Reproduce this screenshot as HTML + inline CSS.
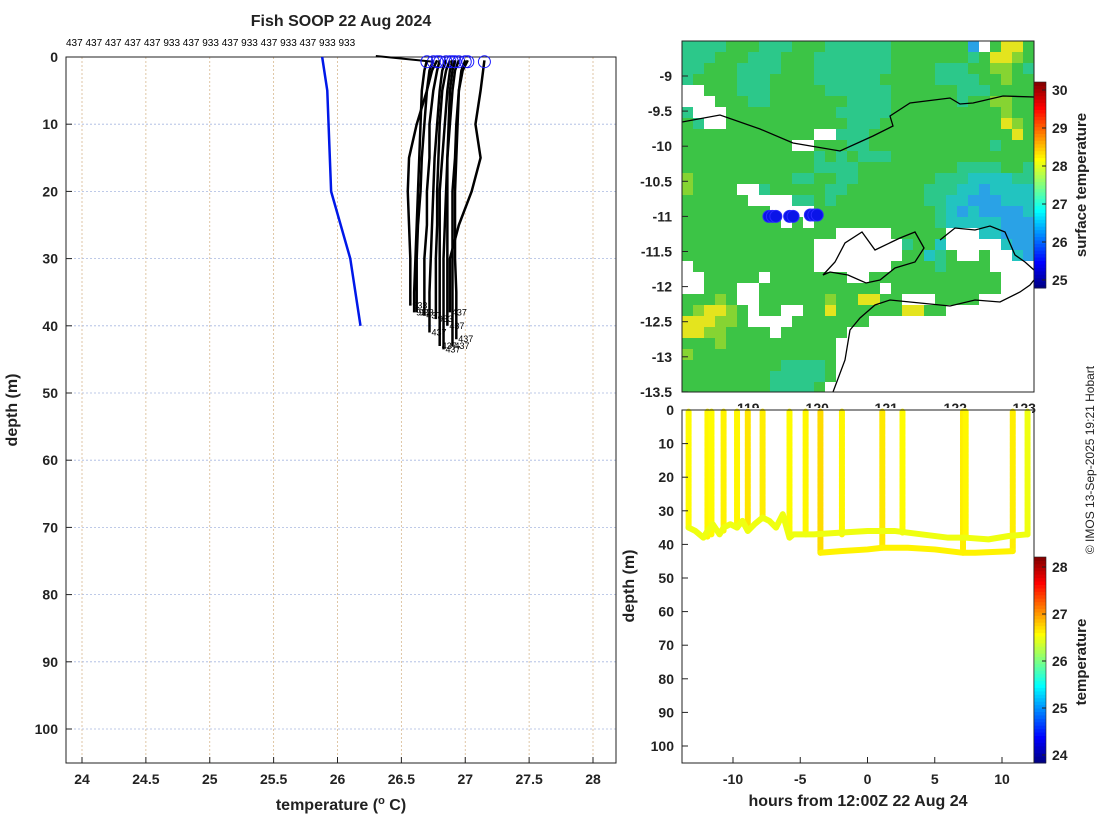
<!DOCTYPE html>
<html><head><meta charset="utf-8"><style>
html,body{margin:0;padding:0;background:#fff;}
svg{display:block;font-family:"Liberation Sans","DejaVu Sans",sans-serif;}
.tk{font-size:14px;font-weight:bold;fill:#222;}
.ttl{font-size:16px;font-weight:bold;fill:#222;}
</style></head><body>
<svg id="fig" width="1100" height="820" viewBox="0 0 1100 820" xmlns="http://www.w3.org/2000/svg">
<rect width="1100" height="820" fill="#fff"/>
<text x="341" y="26" text-anchor="middle" class="ttl">Fish SOOP 22 Aug 2024</text>
<text x="66" y="46" font-size="10" fill="#000">437 437 437 437 437 933 437 933 437 933 437 933 437 933 933</text>
<g id="left"></g>
<g id="map"></g>
<g id="sect"></g>
<text transform="translate(1094,460) rotate(-90)" text-anchor="middle" font-size="12" fill="#222">© IMOS 13-Sep-2025 19:21 Hobart</text>
</svg>
<script>
// ---------- Left profile chart data ----------
const xTicks = [24,24.5,25,25.5,26,26.5,27,27.5,28];
const yTicks = [0,10,20,30,40,50,60,70,80,90,100];
const climDepth = [0,5,20,30,40];
const climTemp = [25.88,25.92,25.95,26.1,26.18];
const profDepth = [0.5,2,5,10,15,20,25,30,35];
const profEnd = [38,38.5,41,43,43.5,43,38,37,39,42,38,40];
const profIds = ['933','437','437','437','437','437','437','933','933','437','933','437'];
const profTemps = [
 [26.75,26.72,26.7,26.68,26.66,26.65,26.63,26.62,26.62],
 [26.8,26.78,26.75,26.72,26.72,26.7,26.7,26.68,26.68],
 [26.85,26.82,26.8,26.78,26.76,26.75,26.74,26.73,26.72],
 [26.9,26.88,26.86,26.84,26.82,26.8,26.8,26.8,26.8],
 [26.95,26.92,26.9,26.88,26.86,26.85,26.84,26.83,26.83],
 [27.0,26.97,26.95,26.93,26.92,26.9,26.9,26.9,26.9],
 [27.15,27.14,27.12,27.08,27.12,27.05,26.95,26.88,26.88],
 [26.78,26.74,26.7,26.62,26.56,26.55,26.56,26.57,26.57],
 [26.88,26.85,26.82,26.8,26.79,26.78,26.78,26.77,26.77],
 [27.02,26.98,26.95,26.94,26.93,26.92,26.92,26.92,26.93],
 [26.7,26.68,26.66,26.65,26.64,26.63,26.62,26.61,26.6],
 [26.92,26.9,26.88,26.87,26.86,26.86,26.86,26.86,26.86]
];
// ---------- Map data ----------
const latTicks = [-9,-9.5,-10,-10.5,-11,-11.5,-12,-12.5,-13,-13.5];
const lonTicks = [119,120,121,122,123];
const shipLon = [119.3,119.35,119.4,119.6,119.65,119.9,119.95,120.0];
const shipLat = [-11.0,-11.0,-11.0,-11.0,-11.0,-10.98,-10.98,-10.98];
const sstCb = [25,26,27,28,29,30];
const sstGrid = [
"ttttgggtttgggttttttgggggggbwgyyg",
"tttgggtttgggtttttttgggggggtgyyhg",
"ttgggttttgggtttttttggggtttgghhgt",
"tggggtttggggttttttgggggttttgghgg",
"wwgggtttgggggttttttggggggtttgggg",
"wwwgggttgggggggttttggggggtgghhgg",
"twwwggggggggggtttttgggggggggghgg",
"gtwwgggggggggggtttgggggggggggyhg",
"ggggggggggggwwtttgggggggggggggyg",
"ggggggggggwwgggttgggggggggggtggg",
"ggggggggggggtgtgtttggggggggggggg",
"ggggggggggggttttgggggggggttttggt",
"hgggggggggttggttgggggggtttcccctt",
"hggggwwtgggggttgggggggtttccbcccc",
"ggggggwwwwttgtggggggggttccbbbccc",
"ggggggggwwwwgggggggggggtcbcbbbbc",
"gggggggggwgwgggggggggggtcccccbbb",
"ggggggggggggggwwwwwgggggwwwccbbb",
"ggggggggggggwwwwwwwwtggcwwwwwcbb",
"ggggggggggggwwwwwwwwggctgwwgwwcb",
"wgggggggggggwwwwwwwggggtggggwwww",
"wwgggggwgggggggwwggggggggggggwww",
"wwgggwwgggggggggggwggggggggggwww",
"ggghgwwgggggghggyyggwwwggggwwwww",
"ghyyhgwggwwggyggggggyyggwwwwwwww",
"yyyhhgwwwwgggggggwwwwwwwwwwwwwww",
"yyhhggggwggggggwwwwwwwwwwwwwwwww",
"ggghggggggggggwwwwwwwwwwwwwwwwww",
"hgggggggggggggwwwwwwwwwwwwwwwwww",
"gggggggggttttgwwwwwwwwwwwwwwwwww",
"ggggggggtttttgwwwwwwwwwwwwwwwwww",
"ggggggggttttgwwwwwwwwwwwwwwwwwww"
];
// ---------- Section data ----------
const hTicks = [-10,-5,0,5,10];
const dTicks = [0,10,20,30,40,50,60,70,80,90,100];
const castTime = [-13.3,-11.9,-11.6,-10.7,-9.7,-8.9,-7.8,-5.8,-4.6,-3.5,-1.9,1.1,2.6,7.1,7.3,10.8,11.9];
const castBottom = [35,38,37,36,35,36,32,38,37,42.5,37,41,36.5,42.5,38,42,37];
const castTempV = [26.58,26.6,26.58,26.62,26.6,26.68,26.64,26.58,26.6,26.72,26.6,26.66,26.58,26.64,26.6,26.64,26.5];
const trackATime = [-13.3,-12.8,-12.2,-11.9,-11.5,-11,-10.7,-10.2,-9.7,-9.3,-8.9,-8.4,-7.8,-7.3,-6.8,-6.3,-5.8,-5.5,-4,-2,0,1.1,2,4,6,7.3,9,10.5,11.9];
const trackADepth = [35,36,38,36,34,37,35,34,35,33,36,34,32,33,35,31,38,37,37,36.5,36,36,36,37,38,38,38.5,37.5,37];
const trackBTime = [-3.5,-2,0,1.1,3,5,7.1,8,10.8];
const trackBDepth = [42.5,42,41.5,41,41,41.5,42.5,42.5,42];
const tempCb = [24,25,26,27,28];

const NS='http://www.w3.org/2000/svg';
function mk(parent,tag,attrs){const e=document.createElementNS(NS,tag);for(const k in attrs)e.setAttribute(k,attrs[k]);parent.appendChild(e);return e;}

// ===== LEFT =====
const L=document.getElementById('left');
const xL=t=>82+(t-24)*127.75, yL=d=>57+d*6.72;
xTicks.forEach(t=>{
 const g=mk(L,'line',{x1:xL(t),x2:xL(t),y1:57,y2:763,stroke:'#d8b890','stroke-dasharray':'2,2','stroke-width':0.8});
 
 
 const tx=mk(L,'text',{x:xL(t),y:784,'text-anchor':'middle',class:'tk'});tx.textContent=t;
 
 
 mk(L,'line',{x1:xL(t),x2:xL(t),y1:763,y2:757,stroke:'#222'});
});
yTicks.forEach(d=>{
 const g=mk(L,'line',{x1:66,x2:616,y1:yL(d),y2:yL(d),stroke:'#a8b8e0','stroke-dasharray':'2,2','stroke-width':0.8});
 
 
 const tx=mk(L,'text',{x:58,y:yL(d)+5,'text-anchor':'end',class:'tk'});tx.textContent=d;
 
 
 mk(L,'line',{x1:66,x2:72,y1:yL(d),y2:yL(d),stroke:'#222'});
});
const fr=mk(L,'rect',{x:66,y:57,width:550,height:706,fill:'none',stroke:'#222','stroke-width':1});


let xt=mk(L,'text',{x:341,y:810,'text-anchor':'middle',class:'ttl'});xt.innerHTML='temperature (<tspan font-size="11" dy="-6">o</tspan><tspan dy="6"> C)</tspan>';


let yt=mk(L,'text',{transform:'translate(17,410) rotate(-90)','text-anchor':'middle',class:'ttl'});yt.textContent='depth (m)';


let cl=mk(L,'polyline',{points:climTemp.map((t,i)=>xL(t)+','+yL(climDepth[i])).join(' '),fill:'none',stroke:'#0018e8','stroke-width':2.5});


let lead=mk(L,'line',{x1:xL(26.3),y1:56,x2:xL(profTemps[0][0]),y2:yL(0.7),stroke:'#000','stroke-width':2});


profTemps.forEach((arr,i)=>{
 const pts=arr.map((t,j)=>xL(t)+','+yL(profDepth[j]));
 pts.push(xL(arr[arr.length-1])+','+yL(profEnd[i]));
 const p=mk(L,'polyline',{points:pts.join(' '),fill:'none',stroke:'#000','stroke-width':2.5,'stroke-linejoin':'round'});
 
 
 const c=mk(L,'circle',{cx:xL(arr[0]),cy:yL(0.7),r:6,fill:'none',stroke:'#1a1aff','stroke-width':1});
 
 
 const lb=mk(L,'text',{x:xL(arr[arr.length-1])+2,y:yL(profEnd[i])+3,'font-size':9,fill:'#000'});lb.textContent=profIds[i];
 
 
});

// ===== MAP =====
const M=document.getElementById('map');
const mx=lon=>682+(lon-118.04)*69, my=lat=>76+(-9-lat)*70.2;
const col={g:'#3cc446',t:'#2cc88a',c:'#22c4c0',b:'#2aa2e6',h:'#86d432',y:'#e4e41e',w:'#ffffff'};
const defs=mk(M,'defs',{});const cp=mk(defs,'clipPath',{id:'mclip'});mk(cp,'rect',{x:682,y:41,width:352,height:351});
lonTicks.forEach(l=>{
 const t=mk(M,'text',{x:mx(l),y:413,'text-anchor':'middle',class:'tk'});t.textContent=l;
 
 
 mk(M,'line',{x1:mx(l),x2:mx(l),y1:392,y2:386,stroke:'#222'});
});
const cells=mk(M,'g',{'clip-path':'url(#mclip)'});
sstGrid.forEach((row,r)=>{for(let c=0;c<row.length;c++){
 const e=mk(cells,'rect',{x:682+c*11,y:41+r*11,width:11.3,height:11.3,fill:col[row[c]]});
 
 
}});
const coast1=mk(cells,'polyline',{points:'682,122 720,115 760,129 793,143 840,151 873,136 893,126 890,116 910,103 950,98 960,104 973,103 1003,96 1034,97',fill:'none',stroke:'#000','stroke-width':1.3});


const coast2=mk(cells,'path',{d:'M823,275 L835,262 L845,243 L862,232 L875,250 L900,238 L915,232 L924,248 L915,262 L895,268 L880,280 L866,283 L848,275 L830,272 Z M833,392 L845,360 L850,330 L860,318 L875,305 L890,300 L920,303 L950,306 L975,300 L1000,302 L1020,292 L1030,285 L1034,280 M940,240 L955,228 L975,230 L990,226 L1005,232 L1015,255 L1025,262 L1034,270',fill:'none',stroke:'#000','stroke-width':1.3});


shipLon.forEach((lo,i)=>{
 const c=mk(M,'circle',{cx:mx(lo),cy:my(shipLat[i]),r:6,fill:'#0a14e8',stroke:'#2a2aff'});
 
 
});
mk(M,'rect',{x:682,y:41,width:352,height:351,fill:'none',stroke:'#222'});
latTicks.forEach(l=>{
 const t=mk(M,'text',{x:672,y:my(l)+5,'text-anchor':'end',class:'tk'});t.textContent=l;
 
 
 mk(M,'line',{x1:682,x2:688,y1:my(l),y2:my(l),stroke:'#222'});
});
// colorbar
const jet=f=>{const r=Math.min(1,Math.max(0,1.5-Math.abs(4*f-3))),g=Math.min(1,Math.max(0,1.5-Math.abs(4*f-2))),b=Math.min(1,Math.max(0,1.5-Math.abs(4*f-1)));return 'rgb('+Math.round(r*255)+','+Math.round(g*255)+','+Math.round(b*255)+')';};
function colorbar(P,x,y0,y1,vmin,vmax,ticks,yv,title,ty,name){
 const n=60,h=(y1-y0)/n;
 for(let i=0;i<n;i++){const e=mk(P,'rect',{x:x,y:y1-(i+1)*h,width:12,height:h+0.5,fill:jet((i+0.5)/n)});
  
  }
 mk(P,'rect',{x:x,y:y0,width:12,height:y1-y0,fill:'none',stroke:'#222','stroke-width':0.6});
 ticks.forEach(v=>{const t=mk(P,'text',{x:x+18,y:yv(v)+5,class:'tk'});t.textContent=v;
  
  
  mk(P,'line',{x1:x+8,x2:x+12,y1:yv(v),y2:yv(v),stroke:'#222'});});
 const tt=mk(P,'text',{transform:'translate('+(x+52)+','+ty+') rotate(-90)','text-anchor':'middle','font-size':15,'font-weight':'bold',fill:'#222'});tt.textContent=title;
 
 
}
colorbar(M,1034,82,288,24.8,30.25,sstCb,v=>280-(v-25)*38,'surface temperature',185,'sst-colorbar');

// ===== SECTION =====
const S=document.getElementById('sect');
mk(S,'rect',{x:620,y:408,width:412,height:412,fill:'#fff'});
const xH=t=>867.5+t*13.45, yH=d=>410+d*3.36;
const tcol=v=>jet(Math.min(1,Math.max(0,(v-23.83)/4.38)));
const sc=mk(S,'g',{});
castTime.forEach((t,i)=>{
 const e=mk(sc,'line',{x1:xH(t),x2:xH(t),y1:yH(0.5),y2:yH(castBottom[i]),stroke:tcol(castTempV[i]),'stroke-width':6,'stroke-linecap':'round','stroke-dasharray':'5,1'});
 
 
});
[[trackATime,trackADepth,26.5],[trackBTime,trackBDepth,26.62]].forEach(([tt,dd,v])=>{
 const e=mk(sc,'polyline',{points:tt.map((t,i)=>xH(t)+','+yH(dd[i])).join(' '),fill:'none',stroke:tcol(v),'stroke-width':6,'stroke-linejoin':'round','stroke-linecap':'round'});
 
 
});
mk(S,'rect',{x:682,y:410,width:352,height:353,fill:'none',stroke:'#222'});
hTicks.forEach(t=>{const tx=mk(S,'text',{x:xH(t),y:784,'text-anchor':'middle',class:'tk'});tx.textContent=t;
 
 
 mk(S,'line',{x1:xH(t),x2:xH(t),y1:763,y2:757,stroke:'#222'});});
dTicks.forEach(d=>{const tx=mk(S,'text',{x:674,y:yH(d)+5,'text-anchor':'end',class:'tk'});tx.textContent=d;
 
 
 mk(S,'line',{x1:682,x2:688,y1:yH(d),y2:yH(d),stroke:'#222'});});
let st=mk(S,'text',{x:858,y:806,'text-anchor':'middle',class:'ttl'});st.textContent='hours from 12:00Z 22 Aug 24';


let sy=mk(S,'text',{transform:'translate(634,586) rotate(-90)','text-anchor':'middle',class:'ttl'});sy.textContent='depth (m)';


colorbar(S,1034,557,763,23.83,28.21,tempCb,v=>755-(v-24)*47,'temperature',662,'temp-colorbar');
</script>
</body></html>
